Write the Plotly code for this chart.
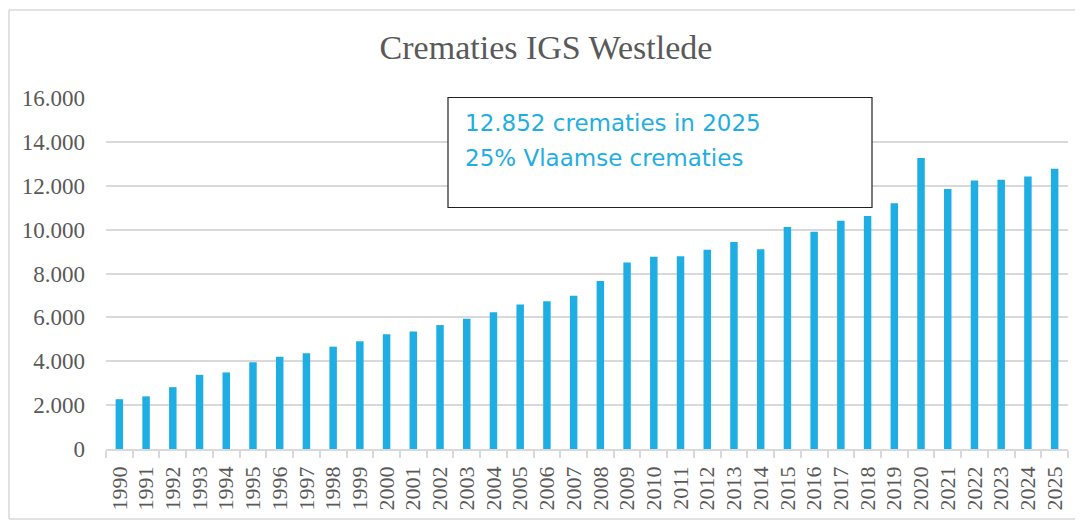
import plotly.graph_objects as go

years = [str(y) for y in range(1990, 2026)]
crematies = [2270, 2400, 2820, 3380, 3490, 3955, 4210, 4360, 4665, 4910,
             5230, 5360, 5650, 5940, 6230, 6590, 6730, 6990, 7660, 8500,
             8760, 8790, 9080, 9440, 9100, 10120, 9900, 10410, 10620, 11200,
             13260, 11850, 12240, 12270, 12420, 12780]
y_ticks = [0, 2000, 4000, 6000, 8000, 10000, 12000, 14000, 16000]
title_text = "Crematies IGS Westlede"
box_lines = ["12.852 crematies in 2025", "25% Vlaamse crematies"]

BLUE = "#1FAEE3"
GREY = "#595959"
GRID = "#D9D9D9"

# page body has an 8px default margin; work in window pixel coords and offset
OFF = 8
WIN_W, WIN_H = 1083, 521
W, H = WIN_W - OFF, WIN_H - OFF
# plot area in window coords: x 106..1068, y 98..449
L, R, T, B = 106 - OFF, WIN_W - 1068, 98 - OFF, WIN_H - 449
pw, ph = W - L - R, H - T - B

def px(x):
    return (x - OFF - L) / pw

def py(y):
    return (H - B - (y - OFF)) / ph

fig = go.Figure()
fig.add_trace(go.Bar(x=years, y=crematies, marker=dict(color=BLUE, line=dict(width=0)),
                     hoverinfo="x+y"))

fig.update_layout(
    width=W, height=H,
    margin=dict(l=L, r=R, t=T, b=B, autoexpand=False),
    paper_bgcolor="white", plot_bgcolor="white",
    bargap=0.72,
    showlegend=False,
    separators=",.",
    title=dict(text=title_text, x=(546 - OFF) / W, xanchor="center",
               y=1 - (47 - OFF) / H, yanchor="middle",
               font=dict(family="Liberation Serif", size=34, color=GREY)),
)
fig.update_xaxes(
    type="category", showgrid=False, showline=True, linecolor=GRID, linewidth=1.5,
    ticks="outside", tickson="boundaries", ticklen=7, tickcolor=GRID, tickwidth=1.5,
    tickangle=-90, automargin=False, ticklabelstandoff=7,
    tickfont=dict(family="Liberation Serif", size=22, color=GREY),
)
fig.update_yaxes(
    range=[0, 16000], tickvals=y_ticks, tickformat=",d", automargin=False,
    showgrid=True, gridcolor=GRID, gridwidth=1.5, zeroline=False, showline=False,
    ticks="", ticklabelstandoff=20,
    tickfont=dict(family="Liberation Serif", size=23, color=GREY),
)

# outer chart border (left, top, bottom edges; right edge lies outside the window)
for (x0, y0, x1, y1) in [(9, 10, 9, 519), (9, 10, 1200, 10), (9, 519, 1200, 519)]:
    fig.add_shape(type="line", xref="paper", yref="paper",
                  x0=px(x0), x1=px(x1), y0=py(y0), y1=py(y1),
                  line=dict(color=GRID, width=1.5), layer="below")
# text box
fig.add_shape(type="rect", xref="paper", yref="paper",
              x0=px(448), x1=px(872), y0=py(207.5), y1=py(97.5),
              line=dict(color="#222222", width=1.2), fillcolor="white", layer="above")
for i, txt in enumerate(box_lines):
    fig.add_annotation(text=txt, xref="paper", yref="paper", x=px(463), y=py(123 + 35 * i),
                       xanchor="left", yanchor="middle", showarrow=False,
                       font=dict(family="DejaVu Sans", size=23, color=BLUE))

fig.write_html("out.html")
